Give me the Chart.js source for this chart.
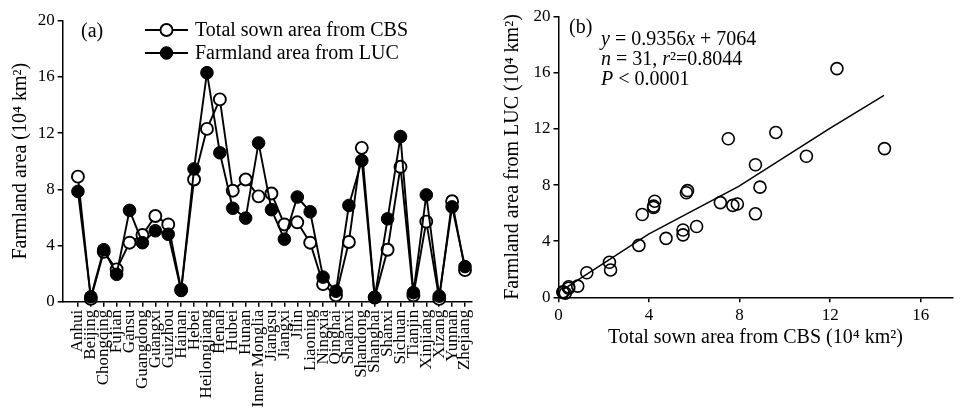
<!DOCTYPE html>
<html><head><meta charset="utf-8">
<script src="https://cdn.jsdelivr.net/npm/chart.js@4.4.1/dist/chart.umd.min.js"></script>
<style>
html,body{margin:0;padding:0;background:#fff;width:960px;height:408px;overflow:hidden}
#wrapA{position:absolute;left:0;top:0;width:480px;height:408px}
#wrapB{position:absolute;left:480px;top:0;width:480px;height:408px}
</style></head><body>
<div id="wrapA"><canvas id="chartA" width="480" height="408"></canvas></div>
<div id="wrapB"><canvas id="chartB" width="480" height="408"></canvas></div>
<script>
// ---------- data ----------
const provinces = ['Anhui','Beijing','Chongqing','Fujian','Gansu','Guangdong','Guangxi','Guizhou','Hainan','Hebei','Heilongjiang','Henan','Hubei','Hunan','Inner Monglia','Jiangsu','Jiangxi','Jilin','Liaoning','Ningxia','Qinghai','Shaanxi','Shandong','Shanghai','Shanxi','Sichuan','Tianjin','Xinjiang','Xizang','Yunnan','Zhejiang'];
// Total sown area from CBS (10^4 km2)
const cbsArea = [8.9, 0.2, 3.55, 2.3, 4.2, 4.75, 6.1, 5.5, 0.85, 8.7, 12.3, 14.4, 7.9, 8.7, 7.5, 7.7, 5.5, 5.65, 4.2, 1.25, 0.45, 4.25, 10.95, 0.3, 3.7, 9.6, 0.45, 5.7, 0.2, 7.15, 2.25];
// Farmland area from LUC (10^4 km2)
const lucArea = [7.85, 0.35, 3.7, 1.95, 6.5, 4.2, 5.05, 4.8, 0.8, 9.45, 16.3, 10.6, 6.65, 5.95, 11.3, 6.55, 4.45, 7.45, 6.4, 1.75, 0.75, 6.85, 10.05, 0.3, 5.9, 11.75, 0.65, 7.6, 0.4, 6.75, 2.5];
const yTicks = [0, 4, 8, 12, 16, 20];
const xTicksB = [0, 4, 8, 12, 16];
// fitted regression line as traced in panel (b)
const fitLineX = [0.15, 3.98, 7.96, 11.95, 14.38];
const fitLineY = [0.5, 4.5, 7.9, 12.0, 14.4];

// ---------- styling ----------
const FONT = "'Liberation Serif','Times New Roman',serif";
const ink = '#000';

const textPlugin = {
  id: 'panelText',
  afterDraw(chart, args, opts) {
    const ctx = chart.ctx;
    ctx.save();
    ctx.textAlign = 'left';
    ctx.textBaseline = 'alphabetic';
    const lines = opts.lines || [];
    for (const line of lines) {
      let x = line.x;
      for (const r of line.runs) {
        ctx.font = (r.italic ? 'italic ' : '') + line.size + 'px ' + FONT;
        ctx.fillStyle = ink;
        ctx.fillText(r.text, x, line.y);
        x += ctx.measureText(r.text).width;
      }
    }
    const leg = opts.legend || [];
    for (const item of leg) {
      const ds = chart.data.datasets[item.dataset];
      ctx.strokeStyle = ds.borderColor;
      ctx.lineWidth = ds.borderWidth;
      ctx.beginPath(); ctx.moveTo(item.x0, item.y); ctx.lineTo(item.x1, item.y); ctx.stroke();
      ctx.beginPath();
      ctx.arc((item.x0 + item.x1) / 2, item.y, ds.pointRadius, 0, Math.PI * 2);
      ctx.fillStyle = ds.pointBackgroundColor; ctx.fill();
      ctx.lineWidth = ds.pointBorderWidth; ctx.strokeStyle = ds.pointBorderColor; ctx.stroke();
      ctx.fillStyle = ink;
      ctx.font = item.size + 'px ' + FONT;
      ctx.fillText(ds.label, item.tx, item.ty);
    }
    ctx.restore();
  }
};

const tickFont = { family: FONT, size: 17 };
const titleFont = { family: FONT, size: 20 };
const gridStyle = { drawOnChartArea: false, drawTicks: true, tickLength: 5, color: ink, lineWidth: 1.5 };
const borderStyle = { color: ink, width: 1.5 };

// ---------- panel (a) ----------
new Chart(document.getElementById('chartA'), {
  type: 'line',
  data: {
    datasets: [
      {
        label: 'Total sown area from CBS',
        data: provinces.map((p, i) => ({ x: i, y: cbsArea[i] })),
        borderColor: ink, borderWidth: 1.9, tension: 0,
        pointRadius: 6, pointBackgroundColor: '#fff', pointBorderColor: ink, pointBorderWidth: 1.9,
        order: 1, clip: false
      },
      {
        label: 'Farmland area from LUC',
        data: provinces.map((p, i) => ({ x: i, y: lucArea[i] })),
        borderColor: ink, borderWidth: 1.9, tension: 0,
        pointRadius: 6.3, pointBackgroundColor: ink, pointBorderColor: ink, pointBorderWidth: 1,
        order: 0, clip: false
      }
    ]
  },
  options: {
    responsive: false, animation: false, devicePixelRatio: 1,
    layout: { padding: { left: 0, top: 20.7, right: 7, bottom: 0 } },
    plugins: {
      legend: { display: false }, tooltip: { enabled: false },
      panelText: {
        lines: [ { x: 81, y: 37, size: 20, runs: [ { text: '(a)' } ] } ],
        legend: [
          { dataset: 0, x0: 145, x1: 188, y: 30, tx: 195, ty: 36, size: 20 },
          { dataset: 1, x0: 145, x1: 188, y: 53, tx: 195, ty: 59, size: 20 }
        ]
      }
    },
    scales: {
      x: {
        type: 'linear', min: -1.18, max: 30.55,
        afterBuildTicks: s => { s.ticks = provinces.map((p, i) => ({ value: i })); },
        afterFit: s => { s.height = 106.3; s.paddingLeft = 0; s.paddingRight = 0; },
        ticks: { autoSkip: false, minRotation: 90, maxRotation: 90, font: tickFont, color: ink, padding: 3,
                 callback: v => provinces[v] },
        grid: gridStyle, border: borderStyle
      },
      y: {
        min: 0, max: 20,
        afterBuildTicks: s => { s.ticks = yTicks.map(v => ({ value: v })); },
        afterFit: s => { s.width = 62.7; s.paddingTop = 0; s.paddingBottom = 0; },
        ticks: { font: tickFont, color: ink, padding: 3 },
        title: { display: true, text: 'Farmland area (10⁴ km²)', font: titleFont, color: ink, padding: { top: 9, bottom: 0 } },
        grid: gridStyle, border: borderStyle
      }
    }
  },
  plugins: [textPlugin]
});

// ---------- panel (b) ----------
new Chart(document.getElementById('chartB'), {
  type: 'scatter',
  data: {
    datasets: [
      {
        type: 'scatter',
        label: 'Provinces',
        data: cbsArea.map((v, i) => ({ x: v, y: lucArea[i] })),
        pointRadius: 6, pointBorderWidth: 1.6, pointBorderColor: ink,
        pointBackgroundColor: 'rgba(0,0,0,0)', clip: false
      },
      {
        type: 'line',
        label: 'Fit',
        data: fitLineX.map((v, i) => ({ x: v, y: fitLineY[i] })),
        borderColor: ink, borderWidth: 1.5, pointRadius: 0, fill: false, tension: 0, clip: false
      }
    ]
  },
  options: {
    responsive: false, animation: false, devicePixelRatio: 1,
    layout: { padding: { left: 0, top: 16.7, right: 1, bottom: 0 } },
    plugins: {
      legend: { display: false }, tooltip: { enabled: false },
      panelText: {
        lines: [
          { x: 89, y: 33, size: 20, runs: [ { text: '(b)' } ] },
          { x: 121, y: 45, size: 20, runs: [ { text: 'y', italic: true }, { text: ' = 0.9356' }, { text: 'x', italic: true }, { text: ' + 7064' } ] },
          { x: 121, y: 65, size: 20, runs: [ { text: 'n', italic: true }, { text: ' = 31, ' }, { text: 'r', italic: true }, { text: '²=0.8044' } ] },
          { x: 121, y: 85, size: 20, runs: [ { text: 'P', italic: true }, { text: ' < 0.0001' } ] }
        ]
      }
    },
    scales: {
      x: {
        type: 'linear', min: 0, max: 17.4,
        afterBuildTicks: s => { s.ticks = xTicksB.map(v => ({ value: v })); },
        afterFit: s => { s.height = 110.7; s.paddingLeft = 0; s.paddingRight = 0; },
        ticks: { font: tickFont, color: ink, padding: 3, maxRotation: 0 },
        title: { display: true, text: 'Total sown area from CBS (10⁴ km²)', font: titleFont, color: ink, padding: { top: 0, bottom: 58 } },
        grid: gridStyle, border: borderStyle
      },
      y: {
        type: 'linear', min: 0, max: 20,
        afterBuildTicks: s => { s.ticks = yTicks.map(v => ({ value: v })); },
        afterFit: s => { s.width = 78.5; s.paddingTop = 0; s.paddingBottom = 0; },
        ticks: { font: tickFont, color: ink, padding: 3 },
        title: { display: true, text: 'Farmland area from LUC (10⁴ km²)', font: titleFont, color: ink, padding: { top: 21, bottom: 0 } },
        grid: gridStyle, border: borderStyle
      }
    }
  },
  plugins: [textPlugin]
});
</script>
</body></html>
